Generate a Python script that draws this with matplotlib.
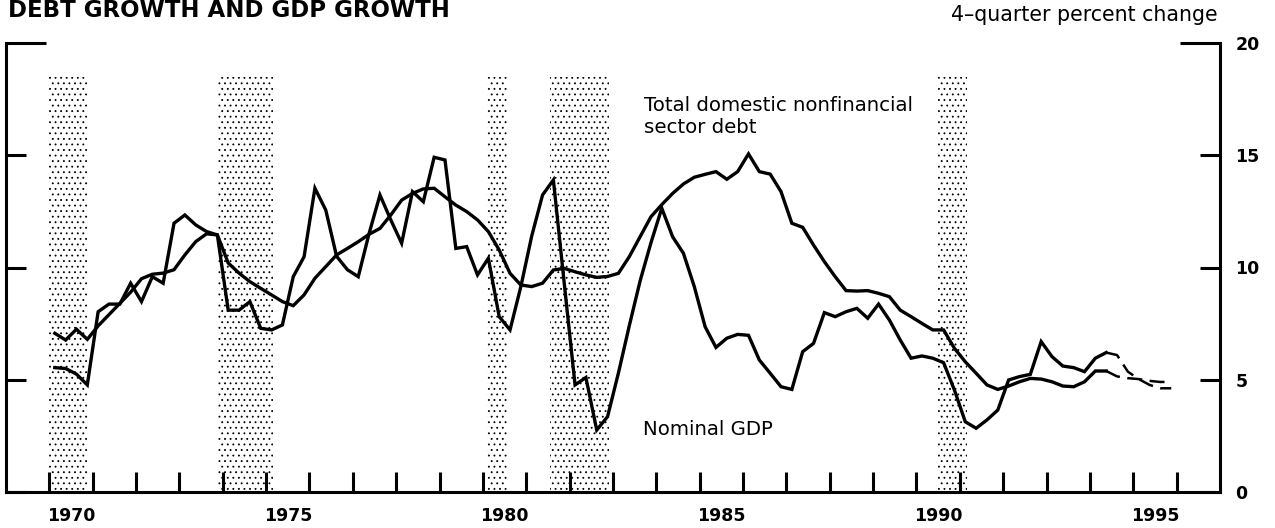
import numpy as np
import matplotlib.pyplot as plt

# quarterly 4-quarter percent changes, 1970Q1 .. 1995Q4 (from 1994Q3 on: projection)
gdp_growth = [
    5.54, 5.50, 5.25, 4.77,    # 1970
    8.03, 8.37, 8.37, 9.30,    # 1971
    8.48, 9.59, 9.30, 11.97,   # 1972
    12.34, 11.90, 11.60, 11.45,
    8.10, 8.10, 8.48, 7.29,
    7.22, 7.44, 9.59, 10.48,   # 1975
    13.53, 12.56, 10.50, 9.90,
    9.59, 11.52, 13.23, 12.12,
    11.08, 13.38, 12.93, 14.91,
    14.79, 10.85, 10.93, 9.67,
    10.41, 7.81, 7.22, 9.15,   # 1980
    11.40, 13.23, 13.90, 9.30,
    4.77, 5.10, 2.76, 3.36,
    5.30, 7.40, 9.40, 11.10,
    12.64, 11.37, 10.63, 9.15,
    7.36, 6.44, 6.85, 7.02,    # 1985
    6.98, 5.88, 5.29, 4.69,
    4.57, 6.25, 6.62, 7.99,
    7.81, 8.03, 8.18, 7.74,
    8.37, 7.66, 6.77, 5.96,
    6.06, 5.96, 5.76, 4.54,    # 1990
    3.13, 2.84, 3.21, 3.65,
    4.99, 5.14, 5.24, 6.70,
    6.03, 5.61, 5.54, 5.36,
    5.96, 6.21, 6.10, 5.36,
    5.03, 4.77, 4.62, 4.62,    # 1995
]

debt_growth = [
    7.07, 6.77, 7.25, 6.80,    # 1970
    7.40, 7.90, 8.40, 8.90,
    9.50, 9.70, 9.75, 9.90,
    10.56, 11.15, 11.50, 11.45,
    10.20, 9.75, 9.37, 9.07,
    8.78, 8.48, 8.30, 8.78,    # 1975
    9.52, 10.04, 10.56, 10.85,
    11.15, 11.48, 11.74, 12.34,
    13.00, 13.30, 13.50, 13.53,
    13.15, 12.78, 12.49, 12.12,
    11.60, 10.78, 9.74, 9.22,  # 1980
    9.15, 9.30, 9.89, 9.96,
    9.81, 9.67, 9.56, 9.60,
    9.74, 10.48, 11.37, 12.26,
    12.80, 13.30, 13.72, 14.02,
    14.15, 14.27, 13.93, 14.27,  # 1985
    15.06, 14.27, 14.16, 13.38,
    11.97, 11.79, 11.00, 10.26,
    9.59, 8.97, 8.95, 8.97,
    8.85, 8.70, 8.10, 7.81,
    7.51, 7.22, 7.22, 6.40,    # 1990
    5.80, 5.29, 4.77, 4.57,
    4.72, 4.91, 5.06, 5.03,
    4.91, 4.72, 4.69, 4.91,
    5.39, 5.39, 5.15, 5.07,
    5.03, 4.95, 4.90, 4.91,    # 1995
]

first_year = 1970
last_actual = 97   # 1994Q2, later quarters are projected

recessions = [(1970.0, 1970.9), (1973.9, 1975.15), (1980.1, 1980.55),
              (1981.55, 1982.9), (1990.5, 1991.17)]

year_labels = [1970, 1975, 1980, 1985, 1990, 1995]

plt.rcParams['font.family'] = ['DejaVu Sans']
plt.rcParams['hatch.linewidth'] = 0.6

quarters = first_year + (np.arange(len(gdp_growth)) + 0.5) / 4
gdp = np.array(gdp_growth)
debt = np.array(debt_growth)

fig = plt.figure(figsize=(12.75, 5.28), dpi=100)
ax = fig.add_axes([6 / 1275, 36 / 528, 1214 / 1275, 449 / 528])

for start, end in recessions:
    ax.axvspan(start, end, ymin=0, ymax=18.5 / 20, facecolor='white',
               edgecolor='black', hatch='...', lw=0, zorder=1)

k = last_actual + 1
for series in (debt, gdp):
    ax.plot(quarters[:k], series[:k], color='black', lw=2.4, zorder=3,
            solid_joinstyle='miter')
    ax.plot(quarters[last_actual:], series[last_actual:], color='black',
            lw=1.8, dashes=(6, 3), zorder=3)

ax.set_xlim(1969, 1997)
ax.set_ylim(0, 20)

# yearly ticks, labels centred in the year
ax.set_xticks(np.arange(1970, 1997))
ax.set_xticklabels([])
ax.set_xticks([y + 0.5 for y in year_labels], minor=True)
ax.set_xticklabels([str(y) for y in year_labels], minor=True,
                   fontsize=12.5, fontweight='bold')
ax.tick_params(axis='x', which='major', direction='in', length=14.4, width=2.2)
ax.tick_params(axis='x', which='minor', length=0, pad=11)

ax.set_yticks([0, 5, 10, 15, 20])
ax.set_yticklabels(['0', '5', '10', '15', '20'], fontsize=12.5, fontweight='bold')
ax.tick_params(axis='y', direction='in', length=14.4, width=2.2,
               left=True, right=True, labelleft=False, labelright=True, pad=11)
top_tick = ax.yaxis.get_major_ticks()[-1]
top_tick.tick1line.set_markersize(29)
top_tick.tick2line.set_markersize(29)

ax.spines['top'].set_visible(False)
for side in ('left', 'right', 'bottom'):
    ax.spines[side].set_linewidth(2.2)

# va='baseline' on two lines sits on the last line's baseline
ax.text(1983.71, 16.0, 'Total domestic nonfinancial\nsector debt',
        fontsize=14.2, va='baseline', ha='left', linespacing=1.2)
ax.text(1983.69, 2.54, 'Nominal GDP', fontsize=14.2, va='baseline', ha='left')

fig.text(8 / 1275, 1 - 17 / 528, 'DEBT GROWTH AND GDP GROWTH',
         fontsize=16.5, fontweight='bold', va='baseline', ha='left')
fig.text(1218 / 1275, 1 - 21 / 528, '4\u2013quarter percent change',
         fontsize=14.8, va='baseline', ha='right')

fig.savefig('out.png', dpi=100)
